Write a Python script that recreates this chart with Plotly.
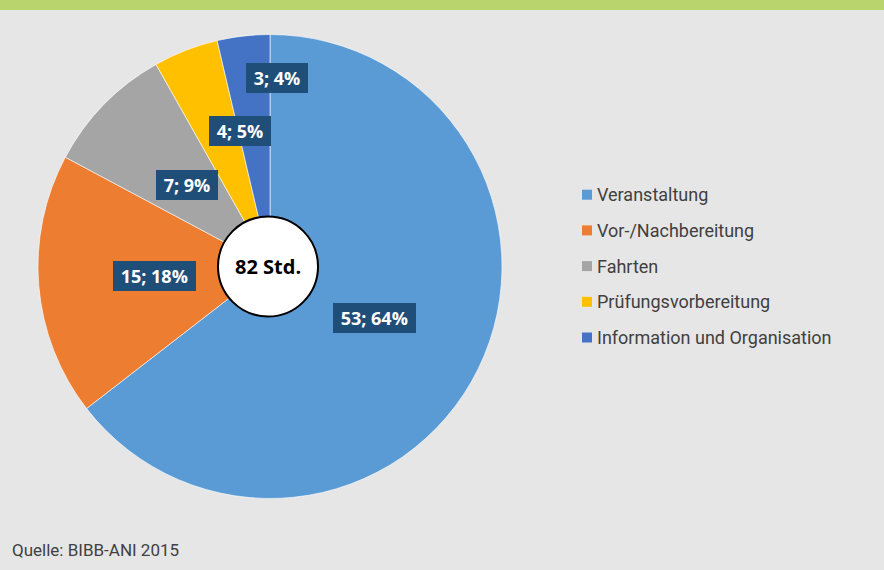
import math
import plotly.graph_objects as go

# ---- data ----
categories = ["Veranstaltung", "Vor-/Nachbereitung", "Fahrten",
              "Prüfungsvorbereitung", "Information und Organisation"]
hours_est = [52.9, 15.0, 7.4, 3.7, 3.0]
hours_shown = [53, 15, 7, 4, 3]                 # labelled hours
pct_shown = [64, 18, 9, 5, 4]                   # labelled percentages
total_label = "82 Std."
source = "Quelle: BIBB-ANI 2015"

# ---- styles / layout ----
colors = ["#5b9bd5", "#ed7d31", "#a5a5a5", "#ffc000", "#4472c4"]
W, H = 884, 570
CX, CY, R = 270, 266.5, 232          # pie centre / radius in pixels
label_r = [0.50, 0.50, 0.50, 0.60, 0.815]
label_dang = [0, 0, 0, 8.9, 8.7]
BG = "#e6e6e6"
TXT = "#404040"

fig = go.Figure(go.Pie(
    labels=categories, values=hours_est, sort=False, direction="clockwise",
    rotation=0, textinfo="none", hoverinfo="label+value",
    marker=dict(colors=colors, line=dict(color="white", width=0.6)),
    domain=dict(x=[(CX - R) / W, (CX + R) / W],
                y=[1 - (CY + R) / H, 1 - (CY - R) / H]),
    showlegend=False,
))

def to_paper(px, py):
    return px / W, 1 - py / H

annotations = []
tot = sum(hours_est)
cum = 0
for i, v in enumerate(hours_est):
    mid = (cum + v / 2) / tot * 360 + label_dang[i]
    cum += v
    th = math.radians(mid)
    px = CX + label_r[i] * R * math.sin(th)
    py = CY - label_r[i] * R * math.cos(th)
    x, y = to_paper(px, py)
    annotations.append(dict(
        x=x, y=y, xref="paper", yref="paper", showarrow=False,
        xanchor="center", yanchor="middle",
        text=f"\u00a0{hours_shown[i]}; {pct_shown[i]}%\u00a0",
        font=dict(family="Open Sans", size=18, color="white", weight="bold"),
        bgcolor="#1f4e79", borderpad=3, borderwidth=0))

# centre circle
shapes = []
x0, y0 = to_paper(CX - 52, CY - 50)
x1, y1 = to_paper(CX + 48, CY + 50)
shapes.append(dict(type="circle", xref="paper", yref="paper",
                   x0=x0, x1=x1, y0=y1, y1=y0,
                   fillcolor="white", line=dict(color="black", width=2)))
cx_p, cy_p = to_paper(CX - 2, CY)
annotations.append(dict(x=cx_p, y=cy_p, xref="paper", yref="paper",
                        xanchor="center", yanchor="middle",
                        showarrow=False, text=total_label,
                        font=dict(family="Open Sans", size=20, color="black",
                                  weight="bold")))

# top green bar
shapes.append(dict(type="rect", xref="paper", yref="paper", x0=0, x1=1,
                   y0=1 - 10 / H, y1=1, fillcolor="#b9d46c", line=dict(width=0)))

# manual legend
LX, LY0, LDY = 582, 194.7, 35.7
for i, c in enumerate(categories):
    yc = LY0 + i * LDY
    a, b = to_paper(LX, yc - 5)
    a2, b2 = to_paper(LX + 10, yc + 5)
    shapes.append(dict(type="rect", xref="paper", yref="paper",
                       x0=a, x1=a2, y0=b2, y1=b, fillcolor=colors[i],
                       line=dict(width=0)))
    tx, ty = to_paper(LX + 13, yc)
    annotations.append(dict(x=tx, y=ty, xref="paper", yref="paper",
                            xanchor="left", yanchor="middle", showarrow=False,
                            text=c,
                            font=dict(family="Roboto", size=18, color=TXT)))

sx, sy = to_paper(10, 550)
annotations.append(dict(x=sx, y=sy, xref="paper", yref="paper", xanchor="left",
                        yanchor="middle", showarrow=False, text=source,
                        font=dict(family="Roboto", size=17, color=TXT)))

fig.update_layout(width=W, height=H, margin=dict(l=0, r=0, t=0, b=0),
                  paper_bgcolor=BG, plot_bgcolor=BG,
                  shapes=shapes, annotations=annotations)
fig.write_html("out.html", config={"displayModeBar": False},
               post_script="document.body.style.margin='0';"
                           "document.body.style.background='#e6e6e6';")
